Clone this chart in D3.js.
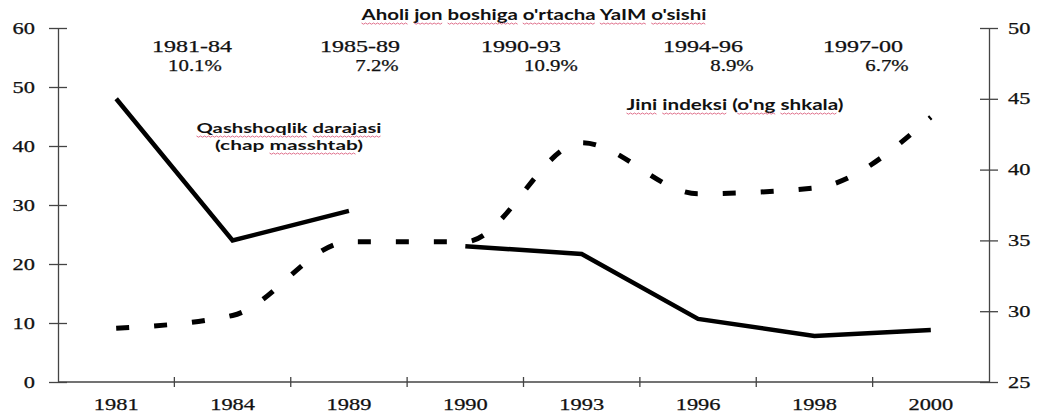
<!DOCTYPE html>
<html>
<head>
<meta charset="utf-8">
<script src="https://cdn.jsdelivr.net/npm/d3@7"></script>
<style>
    body { margin: 0; background: #fff; }
    svg { display: block; }
</style>
</head>
<body>
<svg id="chart" width="1037" height="414"></svg>
<script>
const years = ['1981', '1984', '1989', '1990', '1993', '1996', '1998', '2000'];
// poverty rate, % (left scale); series breaks after 1989
const poverty = [48, 24, 29, 23, 21.7, 10.7, 7.8, 8.8];
const povertyBreak = '1989';
// Gini index (right scale)
const gini = [28.8, 29.7, 34.9, 34.9, 41.9, 38.3, 38.7, 43.7];

const leftTicks = [0, 10, 20, 30, 40, 50, 60];
const rightTicks = [25, 30, 35, 40, 45, 50];

const periods = ['1981-84', '1985-89', '1990-93', '1994-96', '1997-00'];
const growth = ['10.1%', '7.2%', '10.9%', '8.9%', '6.7%'];

const title = "Aholi jon boshiga o'rtacha YaIM o'sishi";
const povertyLabel = ['Qashshoqlik darajasi', '(chap masshtab)'];
const giniLabel = "Jini indeksi (o'ng shkala)";

const margin = {top: 28, right: 48, bottom: 32, left: 58};
const width = 1037;
const height = 414;

const SERIF = '"Liberation Serif", "Times New Roman", Times, serif';
const SANS = 'Lato, "Open Sans", sans-serif';

const svg = d3.select('#chart');

const x = d3.scaleBand()
    .domain(years)
    .range([margin.left, width - margin.right]);

const yL = d3.scaleLinear()
    .domain([0, 60])
    .range([height - margin.bottom, margin.top]);

const yR = d3.scaleLinear()
    .domain([25, 50])
    .range([height - margin.bottom, margin.top]);

const cx = d => x(d) + x.bandwidth() / 2;

// stretch text horizontally (the source picture is widened)
function stretch(sel, k) {
    sel.each(function () {
        const w = this.getComputedTextLength();
        d3.select(this).attr('textLength', w * k).attr('lengthAdjust', 'spacingAndGlyphs');
    });
}

function serifText(sel) {
    sel.attr('font-family', SERIF)
        .attr('font-size', 16)
        .attr('fill', '#111')
        .attr('stroke', '#111')
        .attr('stroke-width', 0.25);
}

const axisColor = '#444';

// left axis
const gL = svg.append('g')
    .attr('transform', `translate(${margin.left},0)`)
    .call(d3.axisLeft(yL).tickValues(leftTicks).tickSize(9).tickPadding(14).tickSizeOuter(0));
gL.selectAll('.tick line').attr('x1', -9).attr('x2', 9);

// right axis
const gR = svg.append('g')
    .attr('transform', `translate(${width - margin.right},0)`)
    .call(d3.axisRight(yR).tickValues(rightTicks).tickSize(9).tickPadding(10).tickSizeOuter(0));
gR.selectAll('.tick line').attr('x1', -9).attr('x2', 9);

// bottom axis (labels at band centres, ticks at band edges)
const gB = svg.append('g')
    .attr('transform', `translate(0,${height - margin.bottom})`)
    .call(d3.axisBottom(x).tickSize(0).tickPadding(17).tickSizeOuter(0));
gB.select('.domain').attr('d', `M${margin.left},0H${width - margin.right}`);
gB.selectAll('.edge')
    .data(years.slice(1))
    .join('line')
    .attr('class', 'edge')
    .attr('x1', d => x(d)).attr('x2', d => x(d))
    .attr('y1', -5).attr('y2', 5)
    .attr('stroke', axisColor)
    .attr('stroke-width', 1.3);

[gL, gR, gB].forEach(g => {
    g.attr('font-family', SERIF).attr('font-size', 16);
    g.selectAll('.domain, .tick line').attr('stroke', axisColor).attr('stroke-width', 1.3);
    serifText(g.selectAll('text'));
    stretch(g.selectAll('text'), 1.4);
});

// lines
const povertyData = years.map((d, i) => ({year: d, v: poverty[i]}));
const giniData = years.map((d, i) => ({year: d, v: gini[i]}));
const cut = years.indexOf(povertyBreak) + 1;

const linePov = d3.line()
    .x(d => cx(d.year))
    .y(d => yL(d.v));

const lineGini = d3.line()
    .curve(d3.curveMonotoneX)
    .x(d => cx(d.year))
    .y(d => yR(d.v));

svg.append('path')
    .datum(giniData)
    .attr('fill', 'none')
    .attr('stroke', '#000')
    .attr('stroke-width', 5)
    .attr('stroke-dasharray', '13,25')
    .attr('d', lineGini);

[povertyData.slice(0, cut), povertyData.slice(cut)].forEach(seg => {
    svg.append('path')
        .datum(seg)
        .attr('fill', 'none')
        .attr('stroke', '#000')
        .attr('stroke-width', 4.5)
        .attr('d', linePov);
});

// header: periods and growth
const periodX = [192, 360, 521, 703, 863];
const growthX = [195, 377, 551, 732, 887];

const pTxt = svg.append('g').selectAll('text')
    .data(periods)
    .join('text')
    .attr('text-anchor', 'middle')
    .attr('x', (d, i) => periodX[i])
    .attr('y', 52)
    .text(d => d)
    .call(serifText);
stretch(pTxt, 1.5);

const gTxt = svg.append('g').selectAll('text')
    .data(growth)
    .join('text')
    .attr('text-anchor', 'middle')
    .attr('x', (d, i) => growthX[i])
    .attr('y', 71)
    .text(d => d)
    .call(serifText);
stretch(gTxt, 1.3);

// annotations, with the spell-check squiggles of the source
function note(str, px, py, w, size, words) {
    const t = svg.append('text')
        .attr('font-family', SANS)
        .attr('font-weight', 700)
        .attr('font-size', size)
        .attr('fill', '#111')
        .attr('text-anchor', 'middle')
        .attr('x', px)
        .attr('y', py)
        .attr('textLength', w)
        .attr('lengthAdjust', 'spacingAndGlyphs')
        .text(str);
    const node = t.node();
    words.forEach(word => {
        const i = str.indexOf(word);
        const x0 = node.getStartPositionOfChar(i).x;
        const x1 = node.getEndPositionOfChar(i + word.length - 1).x;
        let p = `M${x0},${py + 3}`;
        for (let xx = x0 + 2, k = 0; xx <= x1; xx += 2, k++) {
            p += `L${xx},${py + 3 + (k % 2 ? 0 : 1.2)}`;
        }
        svg.append('path')
            .attr('d', p)
            .attr('fill', 'none')
            .attr('stroke', '#e0708c')
            .attr('stroke-width', 1);
    });
}

note(title, 534, 20, 345, 14.5, ['Aholi', 'jon', 'boshiga', "o'rtacha", 'YaIM', "o'sishi"]);
note(povertyLabel[0], 289, 133, 185, 14, ['Qashshoqlik', 'darajasi']);
note(povertyLabel[1], 289, 150, 148, 14, ['masshtab']);
note(giniLabel, 735, 110, 217, 14.5, ['Jini', 'indeksi', "o'ng", 'shkala']);
</script>
</body>
</html>
